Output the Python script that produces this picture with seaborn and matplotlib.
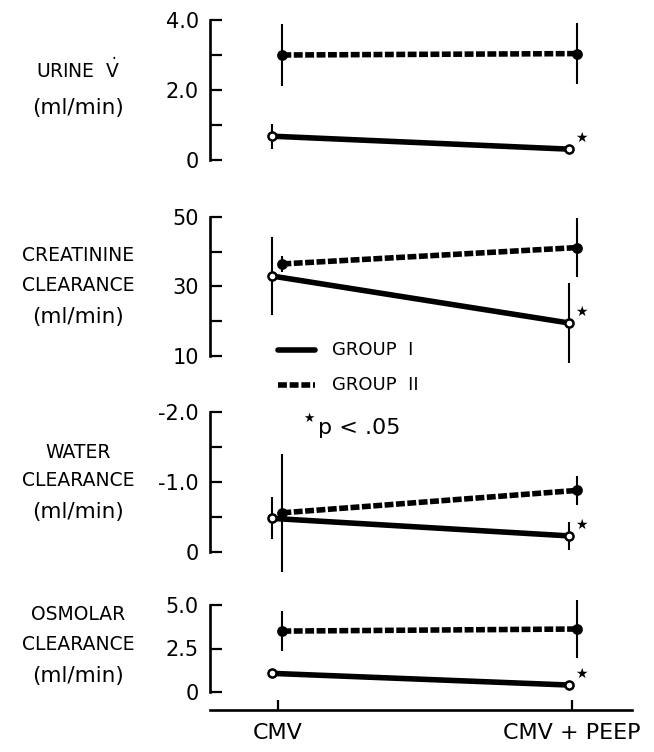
import matplotlib
matplotlib.use("Agg")
import matplotlib.pyplot as plt
import seaborn as sns
import pandas as pd
from matplotlib.lines import Line2D

# conditions et groupes
conditions = ["CMV", "CMV + PEEP"]
groupes = ["GROUP I", "GROUP II"]

# valeurs (moyenne, erreur) pour chaque panneau
urine_g1 = [0.68, 0.31]
urine_g1_err = [0.36, 0.0]
urine_g2 = [3.0, 3.04]
urine_g2_err = [0.89, 0.88]

creat_g1 = [33.0, 19.5]
creat_g1_err = [11.2, 11.4]
creat_g2 = [36.5, 41.2]
creat_g2_err = [2.4, 8.4]

eau_g1 = [-0.48, -0.23]
eau_g1_err = [0.30, 0.20]
eau_g2 = [-0.56, -0.88]
eau_g2_err = [0.84, 0.21]

osm_g1 = [1.07, 0.40]
osm_g1_err = [0.0, 0.0]
osm_g2 = [3.5, 3.62]
osm_g2_err = [1.15, 1.67]

# * p < .05 (groupe I, CMV + PEEP)
etoile_g1 = [False, True]

# titres des axes y
titres = [
    [r"URINE  $\dot{\mathrm{V}}$", "(ml/min)"],
    ["CREATININE", "CLEARANCE", "(ml/min)"],
    ["WATER", "CLEARANCE", "(ml/min)"],
    ["OSMOLAR", "CLEARANCE", "(ml/min)"],
]

# graduations
ticks_urine = [0, 1, 2, 3, 4]
labels_urine = ["0", "", "2.0", "", "4.0"]
ticks_creat = [10, 20, 30, 40, 50]
labels_creat = ["10", "", "30", "", "50"]
ticks_eau = [0, -0.5, -1.0, -1.5, -2.0]
labels_eau = ["0", "", "-1.0", "", "-2.0"]
ticks_osm = [0, 2.5, 5.0]
labels_osm = ["0", "2.5", "5.0"]

W, H = 654, 752


def px(x, y):
    # pixels -> fraction de la figure
    return x / W, 1 - y / H


def rect(y_haut, y_bas):
    x0 = 210 / W
    larg = 422 / W
    return [x0, 1 - y_bas / H, larg, (y_bas - y_haut) / H]


sns.set_style("ticks")
plt.rcParams["font.family"] = ["DejaVu Sans"]
plt.rcParams["axes.unicode_minus"] = False
plt.rcParams["mathtext.fontset"] = "dejavusans"
for k in ["text.color", "axes.labelcolor", "xtick.color", "ytick.color", "axes.edgecolor"]:
    plt.rcParams[k] = "black"

fig = plt.figure(figsize=(6.54, 7.52), dpi=100)

decal_g1 = [-0.019, -0.010]
decal_g2 = [0.015, 0.017]


def trace_panneau(ax, g1, g1_err, g2, g2_err):
    x1 = [i + d for i, d in zip(range(len(conditions)), decal_g1)]
    x2 = [i + d for i, d in zip(range(len(conditions)), decal_g2)]
    df = pd.DataFrame({
        "x": x1 + x2,
        "y": g1 + g2,
        "groupe": [groupes[0]] * len(g1) + [groupes[1]] * len(g2),
    })
    sns.lineplot(data=df, x="x", y="y", style="groupe", color="black", lw=4,
                 dashes={groupes[0]: "", groupes[1]: (1.6, 0.45)},
                 legend=False, ax=ax, zorder=2, clip_on=False)
    # barres d'erreur
    for xs, ys, es in [(x1, g1, g1_err), (x2, g2, g2_err)]:
        for x, y, e in zip(xs, ys, es):
            if e > 0:
                ax.vlines(x, y - e, y + e, color="black", lw=1.5, zorder=1, clip_on=False)
    # points
    sns.scatterplot(x=x2, y=g2, color="black", s=60, edgecolor="black", linewidth=0,
                    ax=ax, zorder=4, clip_on=False, legend=False)
    sns.scatterplot(x=x1, y=g1, color="white", s=34, edgecolor="black", linewidth=1.8,
                    ax=ax, zorder=5, clip_on=False, legend=False)
    for x, y, s in zip(x1, g1, etoile_g1):
        if s:
            ax.annotate("\u2605", (x, y), xytext=(9, 8), textcoords="offset points",
                        fontsize=10, ha="center", va="center")


panneaux = [
    (rect(20, 160), urine_g1, urine_g1_err, urine_g2, urine_g2_err, (0, 4), ticks_urine, labels_urine),
    (rect(217, 356), creat_g1, creat_g1_err, creat_g2, creat_g2_err, (10, 50), ticks_creat, labels_creat),
    (rect(412, 552), eau_g1, eau_g1_err, eau_g2, eau_g2_err, (0, -2.0), ticks_eau, labels_eau),
    (rect(605, 692), osm_g1, osm_g1_err, osm_g2, osm_g2_err, (0, 5.0), ticks_osm, labels_osm),
]

axes = []
for r, g1, g1e, g2, g2e, lim, tk, lb in panneaux:
    ax = fig.add_axes(r)
    trace_panneau(ax, g1, g1e, g2, g2e)
    ax.set_xlim(-0.2313, 1.2041)
    ax.set_ylim(*lim)
    ax.set_yticks(tk)
    ax.set_yticklabels(lb)
    ax.set_xlabel("")
    ax.set_ylabel("")
    ax.tick_params(axis="y", direction="in", length=8.5, width=1.6, pad=8, labelsize=15)
    ax.spines["left"].set_linewidth(1.9)
    sns.despine(ax=ax, bottom=True)
    ax.set_xticks([])
    axes.append(ax)

# axe x commun en bas
ax = axes[-1]
ax.spines["bottom"].set_visible(True)
ax.spines["bottom"].set_position(("outward", 13))
ax.spines["bottom"].set_linewidth(1.9)
ax.set_xticks(range(len(conditions)))
ax.set_xticklabels(conditions)
ax.tick_params(axis="x", direction="in", length=7, width=1.6, pad=9, labelsize=16)

# titres a gauche
pos_titres = [[70, 108], [255, 286, 317], [452, 481, 512], [615, 645, 676]]
for lignes, ys in zip(titres, pos_titres):
    for t, y in zip(lignes, ys):
        taille = 15.5 if t.startswith("(") else 13.5
        fig.text(*px(78, y), t, ha="center", va="center", fontsize=taille)

# legende
fig.add_artist(Line2D([px(278, 0)[0], px(315, 0)[0]], [px(0, 350)[1]] * 2, lw=4, color="black"))
fig.add_artist(Line2D([px(278, 0)[0], px(315, 0)[0]], [px(0, 385)[1]] * 2, lw=4, color="black",
                      dashes=(1.6, 0.5)))
fig.text(*px(332, 350), "GROUP  I", ha="left", va="center", fontsize=13)
fig.text(*px(332, 385), "GROUP  II", ha="left", va="center", fontsize=13)
fig.text(*px(309, 418), "\u2605", ha="center", va="center", fontsize=9)
fig.text(*px(318, 428), "p < .05", ha="left", va="center", fontsize=16)

fig.savefig("out.png", dpi=100)
